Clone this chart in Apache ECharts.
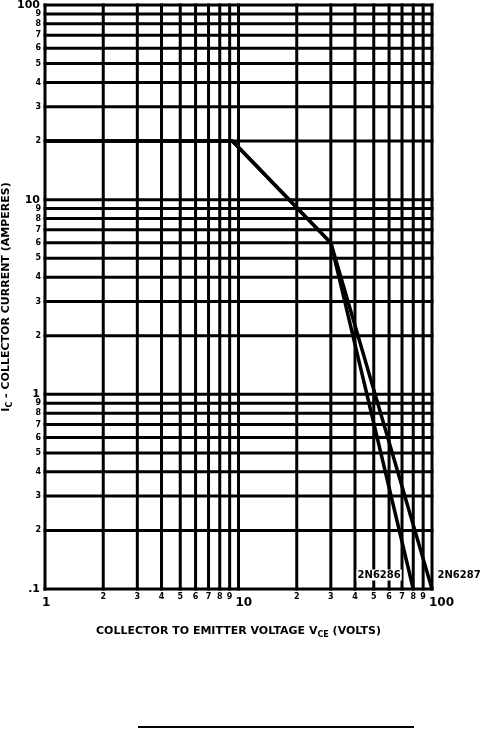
<!DOCTYPE html>
<html>
<head>
<meta charset="utf-8">
<script src="https://cdn.jsdelivr.net/npm/echarts@6/dist/echarts.min.js"></script>
<style>
html,body{margin:0;padding:0;background:#fff;}
#c{width:482px;height:730px;}
</style>
</head>
<body>
<div id="c"></div>
<script>
// ---- data ----
const X_MIN = 1, X_MAX = 100;
const Y_MIN = 0.1, Y_MAX = 100;
const xGridVals   = [1,2,3,4,5,6,7,8,9,10,20,30,40,50,60,70,80,90,100];
const xGridLabels = ['', '2','3','4','5','6','7','8','9','', '2','3','4','5','6','7','8','9',''];
const yGridVals   = [0.1,0.2,0.3,0.4,0.5,0.6,0.7,0.8,0.9,1,2,3,4,5,6,7,8,9,10,20,30,40,50,60,70,80,90,100];
const yGridLabels = ['', '2','3','4','5','6','7','8','9','', '2','3','4','5','6','7','8','9','', '2','3','4','5','6','7','8','9',''];
const vce6286 = [1, 9.3, 30, 80];
const ic6286  = [20, 20, 6, 0.1];
const vce6287 = [1, 9.3, 30, 100];
const ic6287  = [20, 20, 6, 0.1];
const name6286 = '2N6286';
const name6287 = '2N6287';

const FONT = '"DejaVu Sans", sans-serif';

const chart = echarts.init(document.getElementById('c'), null, {renderer: 'canvas'});

function pts(xs, ys, name, labelCfg) {
  return xs.map((x, i) => {
    if (i === xs.length - 1) {
      return {value: [x, ys[i]], label: Object.assign({show: true, formatter: name}, labelCfg)};
    }
    return [x, ys[i]];
  });
}

const lblBase = {
  color: '#000', fontFamily: FONT, fontWeight: 'bold', fontSize: 10,
  backgroundColor: '#fff', padding: [1, 1, 0, 1]
};

const option = {
  animation: false,
  backgroundColor: '#fff',
  grid: {left: 45, right: 50, top: 5, bottom: 141, containLabel: false, outerBoundsMode: 'none'},
  xAxis: {
    type: 'log', logBase: 10, min: X_MIN, max: X_MAX,
    name: 'COLLECTOR TO EMITTER VOLTAGE {s|V}{sub|CE}{s| (VOLTS)}',
    nameLocation: 'middle', nameGap: 34, nameMoveOverlap: false,
    nameTextStyle: {
      color: '#000', fontFamily: FONT, fontWeight: 'bold', fontSize: 11,
      rich: {
        s: {color: '#000', fontFamily: FONT, fontWeight: 'bold', fontSize: 11, lineHeight: 16, verticalAlign: 'middle'},
        sub: {color: '#000', fontFamily: FONT, fontWeight: 'bold', fontSize: 8, lineHeight: 8, verticalAlign: 'bottom'}
      }
    },
    axisLine: {show: false}, axisTick: {show: false}, splitLine: {show: false},
    axisLabel: {
      color: '#000', fontFamily: FONT, fontWeight: 'bold', fontSize: 12,
      align: 'left', margin: 8, padding: [0, 0, 0, -3],
      formatter: v => String(Math.round(v))
    }
  },
  yAxis: {
    type: 'log', logBase: 10, min: Y_MIN, max: Y_MAX,
    name: '{s|I}{sub|C}{s| - COLLECTOR CURRENT (AMPERES)}',
    nameLocation: 'middle', nameGap: 31, nameRotate: 90, nameMoveOverlap: false,
    nameTextStyle: {
      color: '#000', fontFamily: FONT, fontWeight: 'bold', fontSize: 11,
      rich: {
        s: {color: '#000', fontFamily: FONT, fontWeight: 'bold', fontSize: 11, lineHeight: 16, verticalAlign: 'middle'},
        sub: {color: '#000', fontFamily: FONT, fontWeight: 'bold', fontSize: 8, lineHeight: 8, verticalAlign: 'bottom'}
      }
    },
    axisLine: {show: false}, axisTick: {show: false}, splitLine: {show: false},
    axisLabel: {
      color: '#000', fontFamily: FONT, fontWeight: 'bold', fontSize: 11, margin: 5,
      formatter: v => (v < 0.5 ? '.1' : String(Math.round(v)))
    }
  },
  graphic: [
    {type: 'rect', left: 138, top: 726, shape: {width: 276, height: 2}, style: {fill: '#000'}}
  ],
  series: [
    {
      type: 'custom', coordinateSystem: 'cartesian2d', z: 1, silent: true,
      data: xGridVals.map(v => [v, Y_MIN]),
      renderItem: function (params, api) {
        const v = api.value(0);
        const p1 = api.coord([v, Y_MIN]);
        const p2 = api.coord([v, Y_MAX]);
        const children = [{
          type: 'line', shape: {x1: p1[0], y1: p1[1], x2: p2[0], y2: p2[1]},
          style: {stroke: '#000', lineWidth: 3, lineCap: 'square'}
        }];
        const t = xGridLabels[params.dataIndex];
        if (t) {
          children.push({
            type: 'text',
            style: {text: t, x: p1[0], y: p1[1] + 4, align: 'center', verticalAlign: 'top',
                    font: 'bold 8px ' + FONT, fill: '#000'}
          });
        }
        return {type: 'group', children: children};
      }
    },
    {
      type: 'custom', coordinateSystem: 'cartesian2d', z: 1, silent: true,
      data: yGridVals.map(v => [X_MIN, v]),
      renderItem: function (params, api) {
        const v = api.value(1);
        const p1 = api.coord([X_MIN, v]);
        const p2 = api.coord([X_MAX, v]);
        const children = [{
          type: 'line', shape: {x1: p1[0], y1: p1[1], x2: p2[0], y2: p2[1]},
          style: {stroke: '#000', lineWidth: 3, lineCap: 'square'}
        }];
        const t = yGridLabels[params.dataIndex];
        if (t) {
          children.push({
            type: 'text',
            style: {text: t, x: p1[0] - 4, y: p1[1], align: 'right', verticalAlign: 'middle',
                    font: 'bold 8px ' + FONT, fill: '#000'}
          });
        }
        return {type: 'group', children: children};
      }
    },
    {
      type: 'line', name: name6286, z: 5,
      data: pts(vce6286, ic6286, name6286, Object.assign({position: 'left', distance: 11, offset: [0, -14]}, lblBase)),
      symbol: 'rect', symbolSize: 1, showSymbol: true,
      itemStyle: {color: '#000'},
      lineStyle: {color: '#000', width: 3.5},
      label: {show: false}
    },
    {
      type: 'line', name: name6287, z: 5,
      data: pts(vce6287, ic6287, name6287, Object.assign({position: 'right', distance: 4, offset: [0, -14]}, lblBase)),
      symbol: 'rect', symbolSize: 1, showSymbol: true,
      itemStyle: {color: '#000'},
      lineStyle: {color: '#000', width: 3.5},
      label: {show: false}
    }
  ]
};
chart.setOption(option);
</script>
</body>
</html>
